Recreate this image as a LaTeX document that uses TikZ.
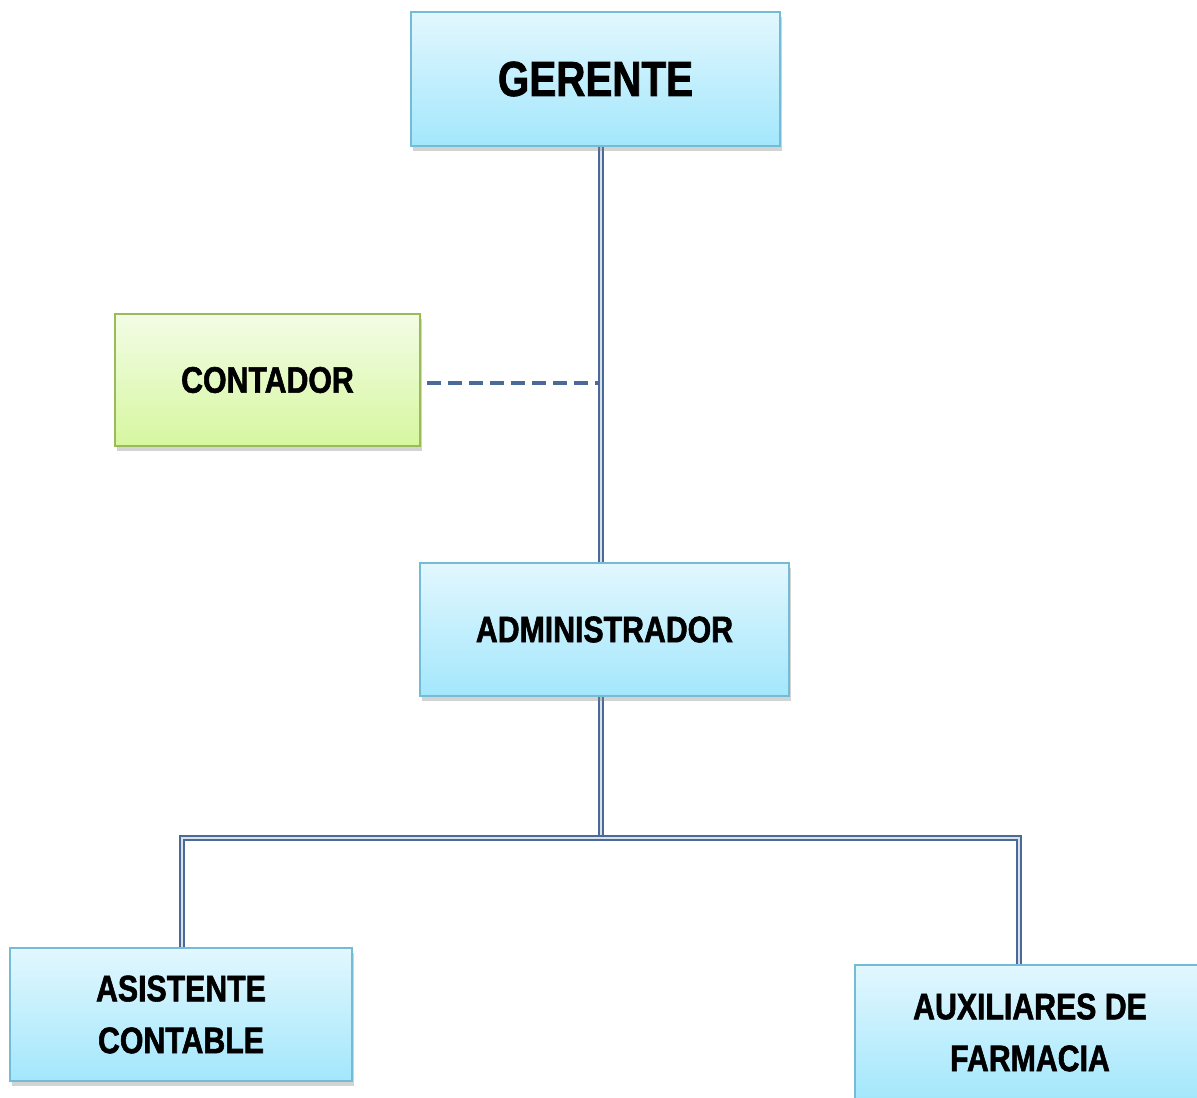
\documentclass[tikz,border=0pt]{standalone}
\usepackage{fontspec}
\newfontfamily\boxfont{Liberation Sans}[FakeStretch=0.82, BoldFeatures={FakeBold=1.5}]
\usetikzlibrary{shadows}
\pgfdeclarelayer{bg}
\pgfsetlayers{bg,main}
\definecolor{cyantop}{HTML}{E2F7FE}
\definecolor{cyanbot}{HTML}{A3E7FC}
\definecolor{cyanline}{HTML}{74BCD6}
\definecolor{greentop}{HTML}{F3FCE6}
\definecolor{greenbot}{HTML}{D6F79F}
\definecolor{greenline}{HTML}{9BBB59}
\definecolor{linkblue}{HTML}{4A6A9A}

\begin{document}
\begin{tikzpicture}[
        post/.style={draw=cyanline, line width=1.2pt, top color=cyantop, bottom color=cyanbot,
                drop shadow={shadow xshift=1pt, shadow yshift=-3pt, opacity=0.35},
                align=center, font=\boxfont\bfseries\fontsize{21}{29.5}\selectfont},
        advisor/.style={post, draw=greenline, top color=greentop, bottom color=greenbot},
        link/.style={draw=linkblue, line width=1pt, double=white!80!linkblue, double distance=1.2pt},
        advice/.style={draw=linkblue, line width=2pt, dash pattern=on 0.28cm off 0.14cm}]
        \useasboundingbox (0,0) rectangle (23.94,-21.94);
        \node (ger) [post, minimum width=7.38cm, minimum height=2.68cm,
                font=\boxfont\bfseries\fontsize{28}{32}\selectfont] at (11.91cm, -1.58cm) {GERENTE};
        \node (con) [advisor, minimum width=6.1cm, minimum height=2.64cm] at (5.35cm, -7.6cm) {CONTADOR};
        \node (adm) [post, minimum width=7.38cm, minimum height=2.66cm] at (12.09cm, -12.59cm) {ADMINISTRADOR};
        \node (asi) [post, minimum width=6.84cm, minimum height=2.66cm] at (3.62cm, -20.29cm) {ASISTENTE\\CONTABLE};
        \node (aux) [post, minimum width=7.0cm, minimum height=2.7cm] at (20.6cm, -20.65cm) {AUXILIARES DE\\FARMACIA};
        \coordinate (trunk) at (12.02cm, -7.66cm);
        \coordinate (bus) at (12.02cm, -16.76cm);
        \begin{pgfonlayer}{bg}
                \draw [link] (ger.south -| trunk) -- (adm.north -| trunk);
                \draw [link] (adm.south -| trunk) -- (bus);
                \draw [link] ([xshift=0.02cm]asi.north) |- (bus) -| ([xshift=-0.22cm]aux.north);
        \end{pgfonlayer}
        \draw [advice] ([xshift=0.12cm]con.east |- trunk) -- ([xshift=-0.06cm]trunk);
\end{tikzpicture}
\end{document}
